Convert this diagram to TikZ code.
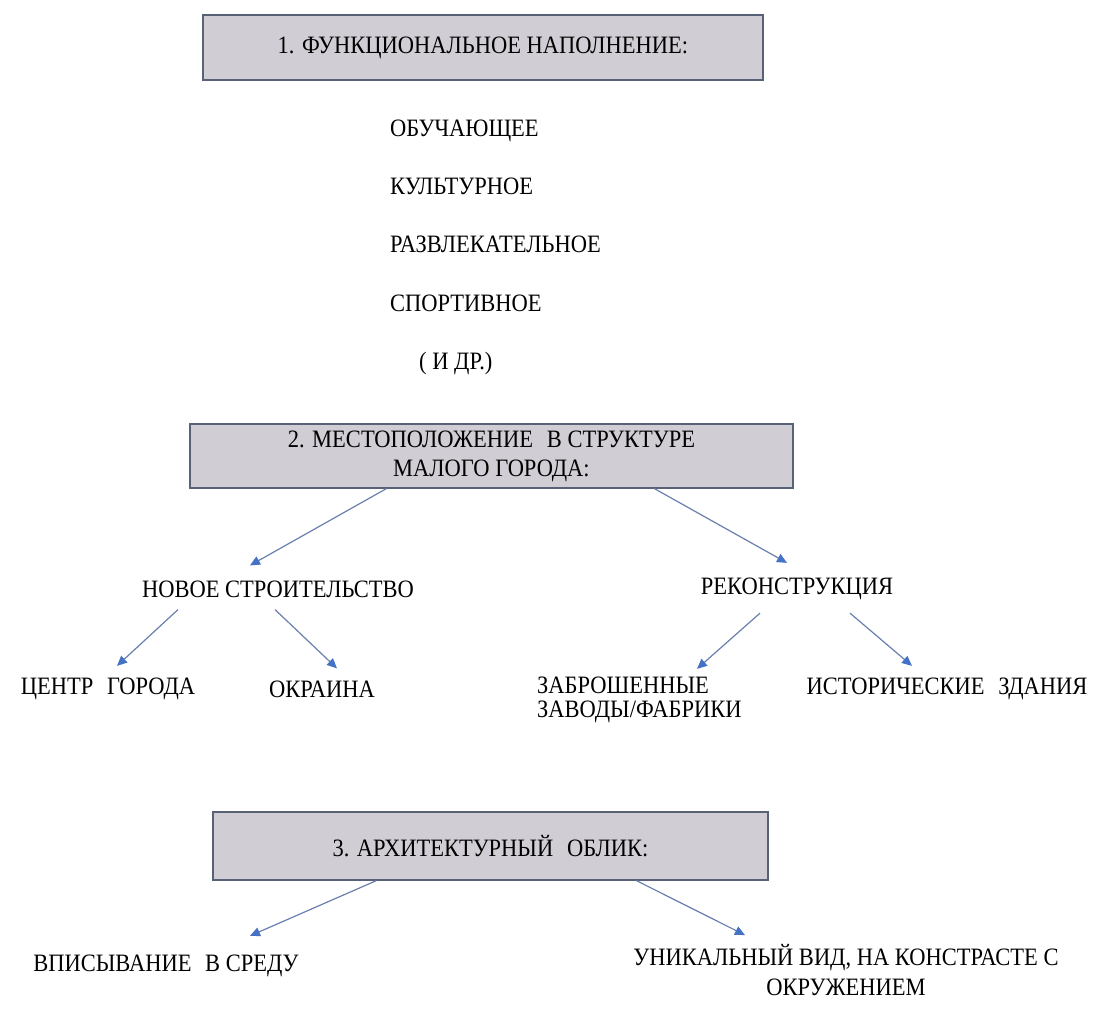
\documentclass[tikz,border=0pt]{standalone}
\usepackage{fontspec}
\setmainfont{Liberation Serif}[FakeStretch=0.9]
\usetikzlibrary{arrows.meta,calc}
\definecolor{boxfill}{RGB}{208,206,212}
\definecolor{boxline}{RGB}{88,98,118}
\definecolor{arrline}{RGB}{105,128,175}
\definecolor{arrtip}{RGB}{68,114,196}
\newcommand{\dsp}{\hspace{0.55em}}
\begin{document}
\begin{tikzpicture}[x=1pt,y=-1pt,
  hbox/.style={draw=boxline,fill=boxfill,line width=1.2pt,inner sep=0pt,font=\fontsize{25}{29}\selectfont,align=center},
  lbl/.style={inner sep=0pt,font=\fontsize{25}{28}\selectfont,align=left},
  arr/.style={draw=arrline,line width=1.2pt,-{Triangle[length=10pt,width=9pt,color=arrtip,fill=arrtip]}}]
\useasboundingbox (0,0) rectangle (1106,1010);
\fill[white] (0,0) rectangle (1106,1010);

% Box 1
\node[hbox,minimum width=560pt,minimum height=65pt] (b1) at (483,47.5) {1. ФУНКЦИОНАЛЬНОЕ НАПОЛНЕНИЕ:};
\node[lbl,anchor=west] (f1) at (390,131) {ОБУЧАЮЩЕЕ};
\node[lbl,anchor=west] (f2) at (390,186) {КУЛЬТУРНОЕ};
\node[lbl,anchor=west] (f3) at (390,244) {РАЗВЛЕКАТЕЛЬНОЕ};
\node[lbl,anchor=west] (f4) at (390,303) {СПОРТИВНОЕ};
\node[lbl,anchor=west] (f5) at (419,363) {( И ДР.)};

% Box 2
\node[hbox,minimum width=603pt,minimum height=64pt] (b2) at (491.5,456) {\raisebox{-3pt}{2. МЕСТОПОЛОЖЕНИЕ\dsp В СТРУКТУРЕ}\\\raisebox{-3pt}{МАЛОГО ГОРОДА:}};
\node[lbl] (ns) at (278,589) {НОВОЕ СТРОИТЕЛЬСТВО};
\node[lbl] (rk) at (797,589) {РЕКОНСТРУКЦИЯ};
\node[lbl] (cg) at (108,689) {ЦЕНТР\dsp ГОРОДА};
\node[lbl] (ok) at (322,689) {ОКРАИНА};
\node[lbl,anchor=west,font=\fontsize{25}{24}\selectfont] (zz) at (537,700) {ЗАБРОШЕННЫЕ\\ЗАВОДЫ/ФАБРИКИ};
\node[lbl] (iz) at (947,689) {ИСТОРИЧЕСКИЕ\dsp ЗДАНИЯ};

\draw[arr] ($(b2.south west)+(197,0)$) -- ($(ns.north)+(-28,-15)$);
\draw[arr] ($(b2.south west)+(465,0)$) -- ($(rk.north)+(-10,-15)$);
\draw[arr] ($(ns.south)+(-100,12)$) -- ($(cg.north)+(9,-12)$);
\draw[arr] ($(ns.south)+(-3,12)$) -- ($(ok.north)+(15,-12)$);
\draw[arr] ($(rk.south)+(-37,13)$) -- ($(zz.north west)+(160,-8)$);
\draw[arr] ($(rk.south)+(53,13)$) -- ($(iz.north)+(-35,-12)$);

% Box 3
\node[hbox,minimum width=555pt,minimum height=68pt] (b3) at (490.5,846) {3. АРХИТЕКТУРНЫЙ\dsp ОБЛИК:};
\node[lbl] (vs) at (166,966) {ВПИСЫВАНИЕ\dsp В СРЕДУ};
\node[lbl,align=center,font=\fontsize{25}{30}\selectfont] (uv) at (846,970) {УНИКАЛЬНЫЙ ВИД, НА КОНСТРАСТЕ С\\ОКРУЖЕНИЕМ};

\draw[arr] ($(b3.south west)+(164,0)$) -- ($(vs.north)+(84,-19)$);
\draw[arr] ($(b3.south west)+(424,0)$) -- ($(uv.north)+(-101,-9)$);
\end{tikzpicture}
\end{document}
